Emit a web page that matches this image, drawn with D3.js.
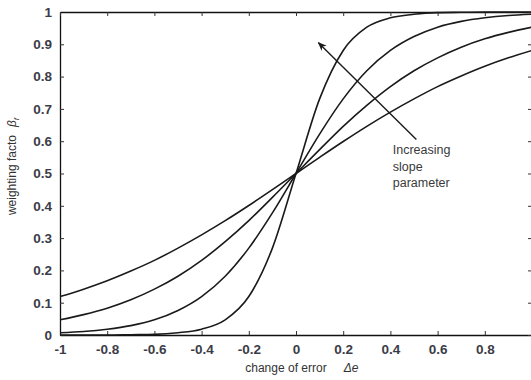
<!DOCTYPE html>
<html>
<head>
<meta charset="utf-8">
<script src="https://cdn.jsdelivr.net/npm/d3@7"></script>
<style>
  body { margin: 0; background: #fff; }
  text { font-family: Arial, "Liberation Sans", sans-serif; }
</style>
</head>
<body>
<div id="chart"></div>
<script>
// values
var xValues = [-1, -0.9, -0.8, -0.7, -0.6, -0.5, -0.4, -0.3, -0.2, -0.1, 0,
               0.1, 0.2, 0.3, 0.4, 0.5, 0.6, 0.7, 0.8, 0.9, 1];

var slope1 = [0.119, 0.142, 0.168, 0.198, 0.231, 0.269, 0.310, 0.354, 0.401, 0.450, 0.5,
              0.550, 0.599, 0.646, 0.690, 0.731, 0.769, 0.802, 0.832, 0.858, 0.881];
var slope2 = [0.047, 0.063, 0.083, 0.109, 0.142, 0.182, 0.231, 0.289, 0.354, 0.426, 0.5,
              0.574, 0.646, 0.711, 0.769, 0.818, 0.858, 0.891, 0.917, 0.937, 0.953];
var slope3 = [0.007, 0.011, 0.018, 0.029, 0.047, 0.076, 0.119, 0.182, 0.269, 0.378, 0.5,
              0.622, 0.731, 0.818, 0.881, 0.924, 0.953, 0.971, 0.982, 0.989, 0.993];
var slope4 = [0.000, 0.000, 0.000, 0.001, 0.002, 0.007, 0.018, 0.047, 0.119, 0.269, 0.5,
              0.731, 0.881, 0.953, 0.982, 0.993, 0.998, 0.999, 1.000, 1.000, 1.000];

var xTicks = [-1, -0.8, -0.6, -0.4, -0.2, 0, 0.2, 0.4, 0.6, 0.8, 1];
var xTickLabels = ["-1", "-0.8", "-0.6", "-0.4", "-0.2", "0", "0.2", "0.4", "0.6", "0.8", ""];
var yTicks = [0, 0.1, 0.2, 0.3, 0.4, 0.5, 0.6, 0.7, 0.8, 0.9, 1];
var yTickLabels = ["0", "0.1", "0.2", "0.3", "0.4", "0.5", "0.6", "0.7", "0.8", "0.9", "1"];

var noteLines = ["Increasing", "slope", "parameter"];

// set the dimensions and margins of the graph
var margin = { top: 12, right: 0, bottom: 45, left: 60 },
    width = 472,
    height = 323;

var svg = d3.select("#chart")
    .append("svg")
    .attr("width", 531)
    .attr("height", 380)
    .append("g")
    .attr("transform", "translate(" + margin.left + "," + margin.top + ")");

var x = d3.scaleLinear().domain([-1, 1]).range([0, width]);
var y = d3.scaleLinear().domain([0, 1]).range([height, 0]);

var tickColor = "#3c3c48";

// axes with inward ticks
var axisBottom = svg.append("g")
    .attr("transform", "translate(0," + height + ")")
    .call(d3.axisBottom(x).tickValues(xTicks).tickSizeInner(-4).tickSizeOuter(0)
        .tickPadding(9).tickFormat(function (d, i) { return xTickLabels[i]; }));
var axisLeft = svg.append("g")
    .call(d3.axisLeft(y).tickValues(yTicks).tickSizeInner(-4).tickSizeOuter(0)
        .tickPadding(8).tickFormat(function (d, i) { return yTickLabels[i]; }));
var axisTop = svg.append("g")
    .call(d3.axisTop(x).tickValues(xTicks).tickSizeInner(-4).tickSizeOuter(0).tickFormat(""));
var axisRight = svg.append("g")
    .attr("transform", "translate(" + width + ",0)")
    .call(d3.axisRight(y).tickValues(yTicks).tickSizeInner(-4).tickSizeOuter(0).tickFormat(""));

[axisBottom, axisLeft, axisTop, axisRight].forEach(function (g) {
    g.select(".domain").attr("stroke", "#111").attr("stroke-width", 1.3);
    g.selectAll(".tick line").attr("stroke", "#333");
    g.selectAll(".tick text")
        .attr("fill", tickColor)
        .style("font-size", "13.5px")
        .style("font-weight", "bold");
});

// curves
var line = d3.line()
    .x(function (d, i) { return x(xValues[i]); })
    .y(function (d) { return y(d); })
    .curve(d3.curveMonotoneX);

[slope1, slope2, slope3, slope4].forEach(function (s) {
    svg.append("path")
        .datum(s)
        .attr("fill", "none")
        .attr("stroke", "#1a1a1a")
        .attr("stroke-width", 1.6)
        .attr("d", line);
});

// annotation arrow
svg.append("defs").append("marker")
    .attr("id", "head")
    .attr("viewBox", "0 0 10 10")
    .attr("refX", 9).attr("refY", 5)
    .attr("markerWidth", 9).attr("markerHeight", 9)
    .attr("markerUnits", "userSpaceOnUse")
    .attr("orient", "auto")
    .append("path")
    .attr("d", "M0,1 L10,5 L0,9 L3,5 Z")
    .attr("fill", "#1a1a1a");

svg.append("line")
    .attr("x1", x(0.51)).attr("y1", y(0.605))
    .attr("x2", x(0.095)).attr("y2", y(0.905))
    .attr("stroke", "#1a1a1a")
    .attr("stroke-width", 1.4)
    .attr("marker-end", "url(#head)");

svg.append("g").selectAll("text")
    .data(noteLines)
    .enter()
    .append("text")
    .attr("x", x(0.41))
    .attr("y", function (d, i) { return y(0.56) + i * 16.5; })
    .attr("fill", "#3a3a3a")
    .style("font-size", "12.5px")
    .text(function (d) { return d; });

// axis titles
var xt = svg.append("text")
    .attr("x", x(-0.215))
    .attr("y", height + 37)
    .attr("fill", "#333")
    .style("font-size", "12px");
xt.append("tspan").text("change of error");
xt.append("tspan").attr("dx", 17).style("font-style", "italic").text("\u0394e");

var yt = svg.append("text")
    .attr("transform", "translate(" + (-44) + "," + (y(0.5) - 7) + ") rotate(-90)")
    .attr("text-anchor", "middle")
    .attr("fill", "#333")
    .style("font-size", "12px");
yt.append("tspan").text("weighting facto");
yt.append("tspan").attr("dx", 8).style("font-style", "italic").text("\u03b2");
yt.append("tspan").attr("dy", 3).style("font-style", "italic").style("font-size", "8px").text("f");
</script>
</body>
</html>
